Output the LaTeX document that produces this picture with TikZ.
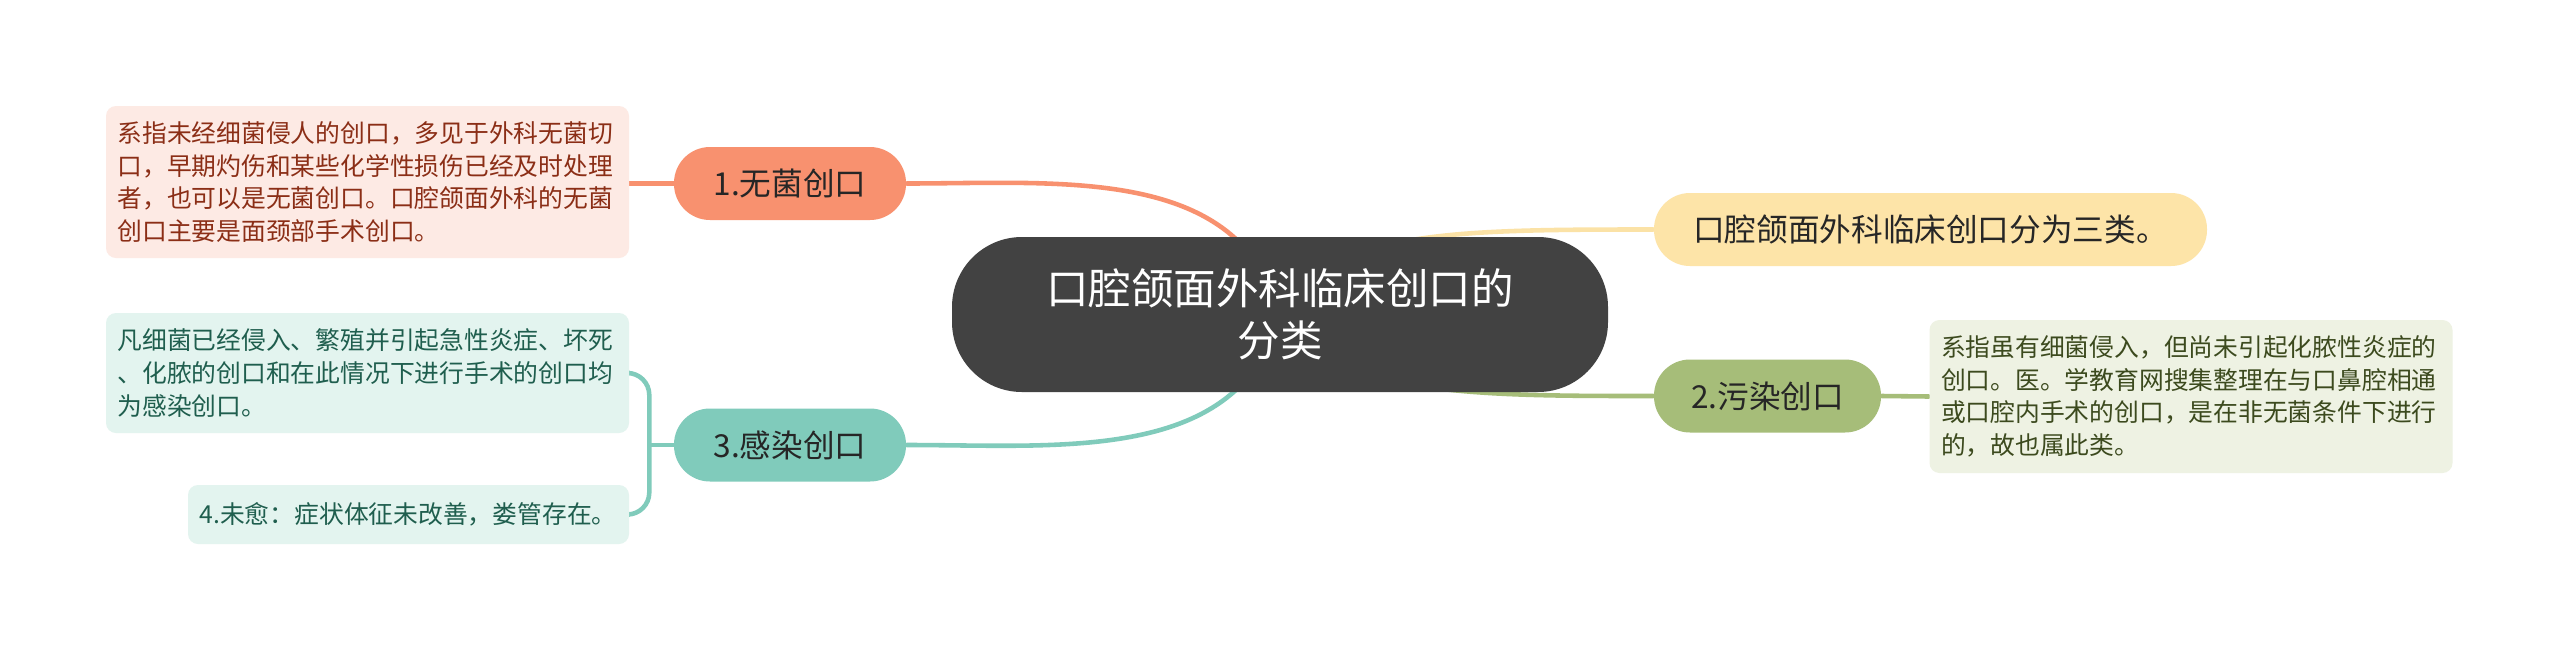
\documentclass[tikz,border=0pt]{standalone}
\usepackage{fontspec}
\setmainfont{Noto Sans CJK SC}
\usetikzlibrary{calc}
\usetikzlibrary{backgrounds}

\definecolor{rootgray}{HTML}{424242}
\definecolor{salmon}{HTML}{F8916F}
\definecolor{salmonbg}{HTML}{FDEAE4}
\definecolor{salmontx}{HTML}{8B2E16}
\definecolor{teal}{HTML}{80CBBB}
\definecolor{tealbg}{HTML}{E3F4EF}
\definecolor{tealtx}{HTML}{1F5E4E}
\definecolor{sand}{HTML}{FDE4A8}
\definecolor{sandln}{HTML}{FBE2A6}
\definecolor{olive}{HTML}{A6BD79}
\definecolor{olivebg}{HTML}{EEF2E3}
\definecolor{olivetx}{HTML}{3C4A1E}

\tikzset{
  topic/.style={rounded corners=0.36cm, minimum height=0.73cm, inner sep=0pt,
    font=\fontsize{9}{11}\selectfont, text=black!85},
  leaf/.style={rounded corners=0.1cm, align=left, inner xsep=0.115cm, inner ysep=0pt,
    text width=5cm, font=\fontsize{7.05}{9.3}\selectfont},
  link/.style={line width=1.3pt, line cap=round}
}

\begin{document}
\begin{tikzpicture}
      \useasboundingbox (0,0) rectangle (25.6,-6.52);

      \node[fill=rootgray, text=white, rounded corners=0.7cm, minimum width=6.56cm,
        minimum height=1.55cm, align=center, font=\fontsize{12.1}{14.9}\selectfont]
        (root) at (12.80,-3.145) {口腔颌面外科临床创口的\\分类};

      \node[topic, fill=salmon, minimum width=2.32cm] (b1) at (7.90,-1.835) {1.无菌创口};
      \node[topic, fill=teal, minimum width=2.32cm] (b3) at (7.90,-4.45) {3.感染创口};
      \node[topic, fill=sand, minimum width=5.53cm] (b0) at (19.305,-2.295) {口腔颌面外科临床创口分为三类。};
      \node[topic, fill=olive, minimum width=2.27cm] (b2) at (17.675,-3.96) {2.污染创口};

      \node[leaf, fill=salmonbg, text=salmontx, minimum height=1.52cm] (t1) at (3.675,-1.82)
        {系指未经细菌侵人的创口，多见于外科无菌切\\口，早期灼伤和某些化学性损伤已经及时处理\\者，也可以是无菌创口。口腔颌面外科的无菌\\创口主要是面颈部手术创口。};
      \node[leaf, fill=tealbg, text=tealtx, minimum height=1.2cm] (t2) at (3.675,-3.73)
        {凡细菌已经侵入、繁殖并引起急性炎症、坏死\\、化脓的创口和在此情况下进行手术的创口均\\为感染创口。};
      \node[leaf, fill=tealbg, text=tealtx, text width=4.18cm, minimum height=0.59cm] (t4) at (4.085,-5.145)
        {4.未愈：症状体征未改善，娄管存在。};
      \node[leaf, fill=olivebg, text=olivetx, minimum height=1.53cm] (t3) at (21.91,-3.965)
        {系指虽有细菌侵入，但尚未引起化脓性炎症的\\创口。医。学教育网搜集整理在与口鼻腔相通\\或口腔内手术的创口，是在非无菌条件下进行\\的，故也属此类。};

      \coordinate (k) at ($(b3.west)+(-0.24,0)$);

      \begin{scope}[on background layer]
        \fill[white] (0,0) rectangle (25.6,-6.52);
        \draw[link, salmon] (b1.east) to[out=0, in=105] (root.center);
        \draw[link, teal] (b3.east) to[out=0, in=-105] (root.center);
        \draw[link, sandln] (root.center) .. controls +(0.5,0.84) and +(-2.04,0) .. (b0.west);
        \draw[link, olive] (root.center) .. controls +(0.5,-0.82) and +(-1.74,0) .. (b2.west);
        \draw[link, salmon] (b1.west) -- (b1.west -| t1.east);
        \draw[link, olive] (b2.east) -- (t3.west);
        \draw[link, teal] (b3.west) -- (k);
        \draw[link, teal, rounded corners=0.22cm] (t2.east) -| (k) |- (t4.east);
      \end{scope}
    \end{tikzpicture}
\end{document}
